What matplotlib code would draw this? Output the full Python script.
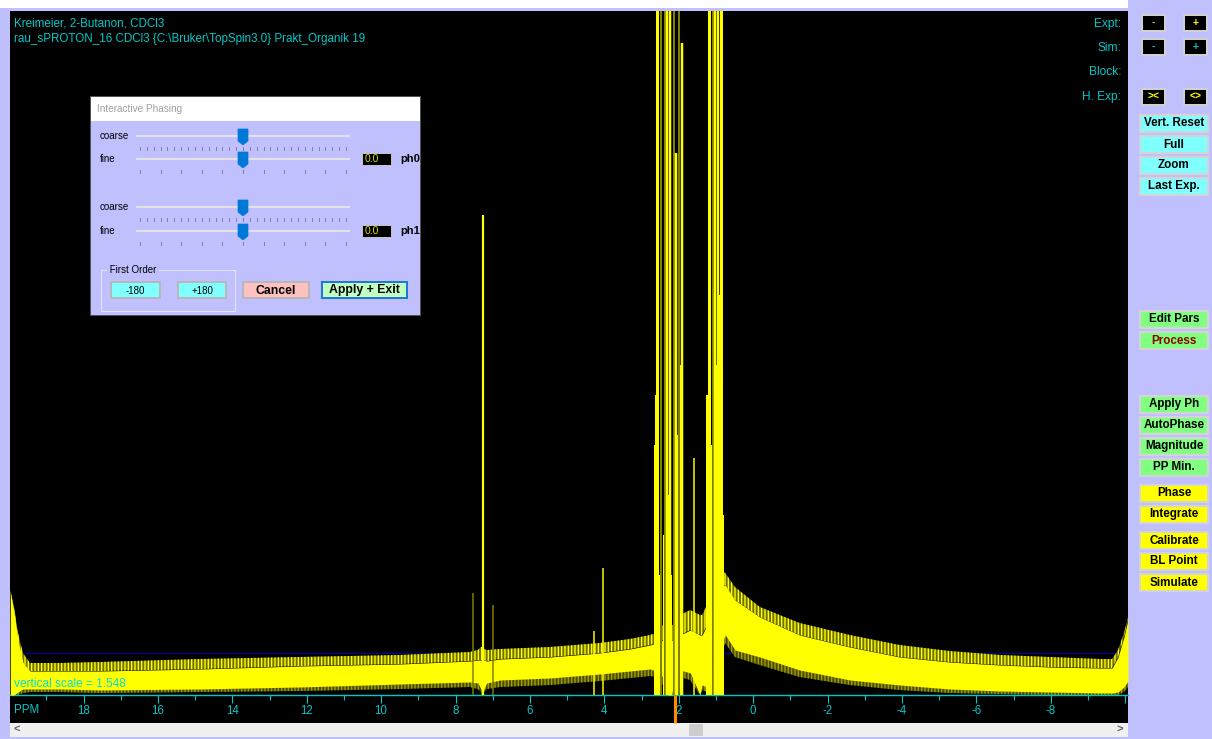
import matplotlib
matplotlib.use("Agg")
import matplotlib.pyplot as plt
from matplotlib.patches import Rectangle, Polygon
from matplotlib.ticker import MultipleLocator, FixedLocator, FixedFormatter
import matplotlib.transforms as mtransforms

plt.rcParams['axes.unicode_minus'] = False
plt.rcParams['hatch.linewidth'] = 1.0

# ---------------- data ----------------
title_line1 = "Kreimeier, 2-Butanon, CDCl3"
title_line2 = r"rau_sPROTON_16 CDCl3 {C:\Bruker\TopSpin3.0} Prakt_Organik 19"
vertical_scale_text = "vertical scale = 1.548"

# baseline noise band envelopes (intensity in display units)
env_ppm = [19.97, 19.87, 19.76, 19.63, 19.44, 18.63, 17.56, 14.87, 12.18, 9.49, 7.61, 7.40, 7.32, 7.30,
           7.24, 7.16, 6.80, 5.46, 4.12, 3.31, 2.77, 2.61, 2.42, 2.29, 2.18, 2.15, 2.07, 1.96, 1.69, 1.43,
           1.37, 1.24, 1.10, 0.97, 0.75, 0.49, -0.18, -1.25, -2.60, -3.94, -5.28, -6.64, -7.98, -9.33,
           -9.65, -9.81, -9.97, -10.08]
env_spike = [105, 88, 62, 42, 32, 32, 33, 36, 38, 40, 43, 45, 48, 48, 46, 45, 46, 48, 52, 56, 60, 62, 70,
             70, 70, 70, 70, 80, 85, 80, 80, 90, 110, 125, 122, 108, 88, 72, 60, 50, 44, 40, 38, 36, 36,
             45, 62, 78]
env_solid = [104, 84, 55, 33, 24, 24, 24, 26, 29, 31, 34, 35, 35, 35, 35, 34, 36, 38, 42, 46, 50, 52, 55,
             55, 55, 55, 55, 60, 65, 60, 60, 70, 90, 110, 110, 95, 78, 60, 48, 38, 33, 30, 28, 27, 27,
             38, 58, 76]
env_bottom = [0, 0, 3, 6, 6, 6, 5, 6, 8, 11, 13, 12, 6, 0, 6, 12, 15, 17, 21, 24, 26, 24, 18, 0, 0, 12,
              20, 25, 22, 0, 10, 8, 0, 40, 60, 45, 38, 25, 15, 10, 6, 4, 3, 2, 2, 3, 8, 14]
env_fringe = [0, 0, 0, 2, 3, 3, 2, 3, 4, 6, 8, 6, 3, 0, 3, 6, 8, 10, 14, 17, 19, 18, 10, 0, 0, 6, 14, 18,
              15, 0, 5, 3, 0, 30, 52, 38, 30, 18, 10, 5, 2, 1, 0, 0, 0, 0, 3, 8]

# peaks (ppm, height); heights above 684 run off the top of the display
peak_ppm = [7.52, 7.25, 6.98, 4.28, 4.04, 1.58, 2.59, 2.47, 2.38, 2.31, 2.23, 2.13, 2.07, 2.00, 1.91,
            1.18, 1.09, 1.02, 0.94, 0.86]
peak_height = [102, 480, 90, 64, 127, 237, 800, 800, 800, 800, 800, 800, 542, 800, 652,
               800, 800, 800, 800, 800]
peak_is_dim = [True, False, True, False, False, False, False, True, True, False, False, True, False, True,
               False, False, True, False, False, False]
peak_width_px = [1.5, 2.2, 1.5, 1.5, 1.5, 1.5, 3.0, 2.0, 2.0, 2.5, 2.5, 2.0, 2.5, 2.0, 2.5,
                 3.0, 2.0, 2.5, 2.5, 3.0]

# broad lower parts of the strong multiplets (ppm, height)
wing_ppm = [2.60, 2.57, 2.52, 2.36, 2.30, 2.24, 2.10, 2.04, 1.98, 1.93, 1.20, 1.16, 1.05, 0.98, 0.88, 0.84]
wing_height = [250, 300, 120, 160, 200, 120, 150, 260, 180, 330, 300, 250, 220, 330, 400, 180]

baseline_level = 42
cursor_ppm = 2.11
tick_labels = ['18', '16', '14', '12', '10', '8', '6', '4', '2', '0', '-2', '-4', '-6', '-8', '']
tick_values = [18, 16, 14, 12, 10, 8, 6, 4, 2, 0, -2, -4, -6, -8, -10]

right_labels = ["Expt:", "Sim:", "Block:", "H. Exp:"]
cyan_buttons = ["Vert. Reset", "Full", "Zoom", "Last Exp."]
green_buttons_a = ["Edit Pars", "Process"]
green_buttons_b = ["Apply Ph", "AutoPhase", "Magnitude", "PP Min."]
yellow_buttons_a = ["Phase", "Integrate"]
yellow_buttons_b = ["Calibrate", "BL Point", "Simulate"]

# ---------------- figure ----------------
W, H = 1212, 739
LAV = '#C0C0FF'
CYAN = '#00C8C8'
YEL = '#FFFF00'
OLIVE = '#808000'
FONT = 'Liberation Sans'
PX = 0.72  # points per pixel

fig = plt.figure(figsize=(W / 100, H / 100), dpi=100, facecolor=LAV)


def px_axes(z):
    a = fig.add_axes([0, 0, 1, 1])
    a.set_xlim(0, W)
    a.set_ylim(H, 0)
    a.axis('off')
    a.patch.set_alpha(0)
    a.set_zorder(z)
    return a


bg = px_axes(0)
ui = px_axes(5)


def rect(ax, x0, y0, x1, y1, fc, ec='none', lw=0, z=1):
    ax.add_patch(Rectangle((x0, y0), x1 - x0, y1 - y0, facecolor=fc, edgecolor=ec, linewidth=lw, zorder=z))


# window frame
rect(bg, 0, 0, 1128, 8, 'white')
rect(bg, 10, 11, 1128, 723, 'black')
rect(bg, 10, 723, 1128, 737, '#F0F0F0')
rect(bg, 689, 724, 703, 736, '#CDCDCD', z=2)
bg.text(17, 730, '<', color='#606060', fontsize=8, fontweight='bold', ha='center', va='center', family=FONT)
bg.text(1120, 730, '>', color='#606060', fontsize=8, fontweight='bold', ha='center', va='center', family=FONT)

# ---------------- spectrum axes ----------------
x0_ppm = (753.1 - 10) / 37.2
x1_ppm = (753.1 - 1128) / 37.2
ax = fig.add_axes([10 / W, 1 - 695 / H, 1118 / W, 684 / H])
ax.set_zorder(1)
ax.patch.set_alpha(0)
ax.set_xlim(x0_ppm, x1_ppm)
ax.set_ylim(0, 684)
for s in ['top', 'left', 'right']:
    ax.spines[s].set_visible(False)
ax.spines['bottom'].set_color(CYAN)
ax.spines['bottom'].set_linewidth(1.0)
ax.yaxis.set_visible(False)
ax.xaxis.set_major_locator(FixedLocator(tick_values))
ax.xaxis.set_major_formatter(FixedFormatter(tick_labels))
ax.xaxis.set_minor_locator(MultipleLocator(1))
ax.tick_params(axis='x', which='major', direction='out', length=6, width=0.8, color=CYAN,
               labelcolor=CYAN, labelsize=8.3, pad=1.5)
ax.tick_params(axis='x', which='minor', direction='out', length=3.6, width=0.8, color=CYAN)
for lab in ax.get_xticklabels():
    lab.set_family(FONT)

ax.axhline(baseline_level, color='#0000A0', lw=0.8, zorder=1)
ax.fill_between(env_ppm, env_fringe, env_bottom, facecolor='#4A4A00', edgecolor='#A0A000', hatch='|||||',
                lw=0, zorder=2)
ax.fill_between(env_ppm, env_solid, env_spike, facecolor='#707000', edgecolor=YEL, hatch='|||||',
                lw=0, zorder=2)
ax.fill_between(env_ppm, env_bottom, env_solid, color=YEL, lw=0, zorder=3)

for p, h in zip(wing_ppm, wing_height):
    ax.vlines(p, 0, h, color=YEL, lw=4 * PX, zorder=4)

for p, h, dim, w in zip(peak_ppm, peak_height, peak_is_dim, peak_width_px):
    ax.vlines(p, 0, h, color=OLIVE if dim else YEL, lw=w * PX, zorder=4 if dim else 5)

trans = mtransforms.blended_transform_factory(ax.transData, ax.transAxes)
ax.vlines(cursor_ppm, -28 / 684, 0, color='#FF8C00', lw=2.2, transform=trans, clip_on=False, zorder=6)

# ---------------- texts on spectrum ----------------
ui.text(14, 23, title_line1, color=CYAN, fontsize=8.4, va='center', ha='left', family=FONT)
ui.text(14, 39, title_line2, color=CYAN, fontsize=8.4, va='center', ha='left', family=FONT)
ui.text(14, 684, vertical_scale_text, color='#00E0E0', fontsize=8.6, va='center', ha='left', family=FONT)
ui.text(14, 710, 'PPM', color=CYAN, fontsize=8.3, va='center', ha='left', family=FONT)

for lab, y in zip(right_labels, [24, 48, 72, 97]):
    ui.text(1121, y, lab, color=CYAN, fontsize=8.6, va='center', ha='right', family=FONT)


def small_btn(x0, y0, x1, y1, label, col):
    rect(ui, x0, y0, x1, y1, '#D0D0D0', z=2)
    rect(ui, x0 + 2, y0 + 2, x1 - 2, y1 - 2, 'black', z=3)
    ui.text((x0 + x1) / 2, (y0 + y1) / 2, label, color=col, fontsize=7.5, fontweight='bold',
            ha='center', va='center', family=FONT, zorder=4)


small_btn(1141, 14, 1166, 32, '-', '#C8C800')
small_btn(1183, 14, 1208, 32, '+', YEL)
small_btn(1141, 38, 1166, 56, '-', CYAN)
small_btn(1183, 38, 1208, 56, '+', CYAN)
small_btn(1141, 88, 1166, 106, '><', YEL)
small_btn(1183, 88, 1208, 106, '<>', YEL)


def button(x0, y0, x1, y1, fc, label, tc='black', fs=8.4, bold=True, border='#D4D4D4', bw=2):
    rect(ui, x0, y0, x1, y1, border, z=2)
    rect(ui, x0 + bw, y0 + bw, x1 - bw, y1 - bw, fc, z=3)
    ui.text((x0 + x1) / 2, (y0 + y1) / 2 + 0.5, label, color=tc, fontsize=fs,
            fontweight='bold' if bold else 'normal', ha='center', va='center', family=FONT, zorder=4)


def column(labels, centers, fc, colors=None):
    for i, (lab, c) in enumerate(zip(labels, centers)):
        tc = colors[i] if colors else 'black'
        button(1139, c - 9.5, 1209, c + 9.5, fc, lab, tc=tc)


column(cyan_buttons, [123, 144, 165, 186], '#80FFFF')
column(green_buttons_a, [319, 340], '#80FF80', colors=['black', '#900000'])
column(green_buttons_b, [404, 425, 446, 467], '#80FF80')
column(yellow_buttons_a, [493, 514], YEL)
column(yellow_buttons_b, [540, 561, 582], YEL)

# ---------------- Interactive Phasing dialog ----------------
rect(ui, 90, 96, 421, 316, '#505050', z=2)
rect(ui, 91, 97, 420, 315, LAV, z=3)
rect(ui, 91, 97, 420, 121, 'white', z=3)
ui.text(97, 109, 'Interactive Phasing', color='#A0A0A0', fontsize=7.2, va='center', ha='left',
        family=FONT, zorder=4)


def slider(y, label, dense):
    ui.text(100, y, label, color='black', fontsize=7, va='center', ha='left', family=FONT, zorder=4)
    rect(ui, 136, y - 1.2, 350, y + 1.2, '#E2E2E2', z=4)
    n = 31 if dense else 11
    for i in range(n):
        tx = 140 + i * (206 / (n - 1))
        ui.plot([tx, tx], [y + 11, y + 13.5], color='#8080A0', lw=0.7, zorder=4)
    cx = 243
    ui.add_patch(Polygon([(cx - 5, y - 7), (cx + 5, y - 7), (cx + 5, y + 5), (cx, y + 9), (cx - 5, y + 5)],
                         closed=True, facecolor='#0078D7', edgecolor='#0078D7', lw=0.5, zorder=5))


slider(136, 'coarse', True)
slider(159, 'fine', False)
slider(207, 'coarse', True)
slider(231, 'fine', False)

for y, lab in [(159, 'ph0'), (231, 'ph1')]:
    rect(ui, 362, y - 6.5, 392, y + 6.5, '#C0C0C0', z=4)
    rect(ui, 363, y - 5.5, 391, y + 5.5, 'black', z=5)
    ui.text(365, y, '0.0', color='#D8D800', fontsize=7.5, va='center', ha='left', family=FONT, zorder=6)
    ui.text(400, y + 0.5, lab, color='black', fontsize=8, fontweight='bold', va='center', ha='left',
            family=FONT, zorder=6)

# First Order group
ui.add_patch(Rectangle((101, 270), 134, 41, facecolor='none', edgecolor='#E4E4F4', lw=0.8, zorder=4))
ui.text(107, 270, ' First Order ', color='black', fontsize=7, va='center', ha='left', family=FONT,
        zorder=5, bbox=dict(facecolor=LAV, edgecolor='none', pad=0))


def dlg_button(x0, x1, fc, label, fs, bold, border='#B8B8B8'):
    rect(ui, x0, 281, x1, 299, border, z=4)
    rect(ui, x0 + 2, 283, x1 - 2, 297, fc, z=5)
    ui.text((x0 + x1) / 2, 290.5, label, color='black', fontsize=fs, fontweight='bold' if bold else 'normal',
            ha='center', va='center', family=FONT, zorder=6)


dlg_button(110, 161, '#80FFFF', '-180', 7, False)
dlg_button(177, 227, '#80FFFF', '+180', 7, False)
dlg_button(242, 310, '#FFC0C0', 'Cancel', 8.8, True)
dlg_button(321, 408, '#C0FFC0', 'Apply + Exit', 8.8, True, border='#1E78D7')

fig.savefig('out.png', dpi=100, facecolor=LAV)
